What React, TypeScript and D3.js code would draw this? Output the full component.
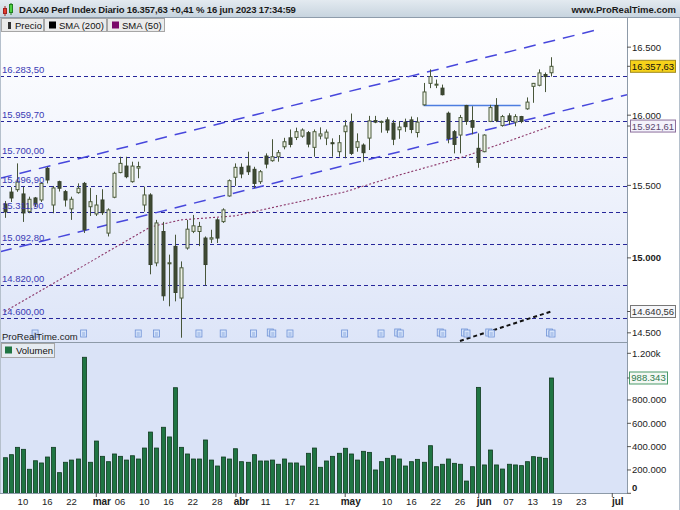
import React from "react";
import * as d3 from "d3";

// ---------- DATA ----------
const dates = [
  "02-07","02-08","02-09","02-10","02-13","02-14","02-15","02-16","02-17","02-20","02-21","02-22","02-23","02-24","02-27","02-28",
  "03-01","03-02","03-03","03-06","03-07","03-08","03-09","03-10","03-13","03-14","03-15","03-16","03-17","03-20","03-21","03-22","03-23","03-24","03-27","03-28","03-29","03-30","03-31",
  "04-03","04-04","04-05","04-06","04-11","04-12","04-13","04-14","04-17","04-18","04-19","04-20","04-21","04-24","04-25","04-26","04-27","04-28",
  "05-02","05-03","05-04","05-05","05-08","05-09","05-10","05-11","05-12","05-15","05-16","05-17","05-18","05-19","05-22","05-23","05-24","05-25","05-26","05-29","05-30","05-31",
  "06-01","06-02","06-05","06-06","06-07","06-08","06-09","06-12","06-13","06-14","06-15","06-16"
];
const futureDates = ["06-19","06-20","06-21","06-22","06-23","06-26","06-27","06-28","06-29","06-30","07-03","07-04","07-05"];

const opens = [
  15370,15453,15470,15440,15317,15412,15398,15620,15363,15526,15456,15336,15449,15514,15351,15301,
  15398,15169,15417,15590,15636,15526,15622,15363,15433,14966,15180,14960,15078,14730,15067,15181,15180,15135,15128,15260,15248,15426,15557,
  15627,15636,15613,15526,15707,15674,15702,15773,15837,15840,15849,15874,15769,15850,15835,15802,15738,15881,
  15948,15769,15785,15835,15961,15953,15966,15942,15895,15950,15966,15875,16075,16232,16220,16197,16014,15881,15857,16070,15961,15762,
  15738,15955,16070,15925,15995,15950,15990,16046,16210,16218,16297,16310
];
const highs = [
  15391,15488,15655,15489,15421,15419,15524,15631,15496,15533,15468,15421,15514,15524,15482,15433,
  15473,15340,15596,15702,15702,15667,15667,15491,15445,15260,15246,15022,15158,14976,15260,15294,15246,15146,15192,15272,15340,15542,15655,
  15655,15738,15631,15608,15726,15827,15750,15837,15897,15910,15905,15886,15897,15912,15897,15833,15857,15966,
  16012,15869,15797,15995,15995,15961,15985,15966,15955,15975,15990,15985,16235,16335,16260,16223,16026,15893,16002,16075,16065,15869,
  15862,16075,16124,16002,16014,16007,15995,16129,16235,16335,16312,16425
];
const lows = [
  15274,15384,15455,15246,15306,15349,15384,15514,15306,15457,15352,15260,15442,15170,15287,15287,
  15294,15146,15410,15585,15550,15519,15550,15317,14889,14943,14712,14675,14708,14468,15056,15169,15080,14812,15101,15101,15239,15421,15496,
  15550,15573,15480,15510,15620,15667,15667,15755,15769,15821,15838,15769,15702,15826,15785,15702,15702,15691,
  15714,15738,15667,15750,15942,15874,15871,15785,15830,15880,15870,15840,16070,16197,16197,16144,15798,15726,15726,15930,15862,15624,
  15734,15950,15950,15917,15930,15920,15942,16039,16090,16210,16168,16282
];
const closes = [
  15315,15412,15523,15308,15403,15370,15514,15538,15482,15480,15398,15403,15480,15192,15386,15363,
  15310,15329,15585,15655,15561,15636,15633,15433,14955,15239,14745,14967,14767,14933,15196,15219,15215,14955,15137,15135,15329,15533,15627,
  15580,15596,15514,15596,15650,15702,15731,15809,15790,15881,15893,15792,15881,15865,15878,15798,15802,15922,
  15726,15809,15731,15959,15950,15955,15893,15827,15914,15917,15897,15950,16169,16282,16226,16149,15833,15790,15983,15955,15913,15662,
  15857,16055,15961,15990,15961,15990,15955,16095,16232,16309,16282,16357.63
];
const volumes = [
  305000,331000,394000,377000,206000,279000,260000,311000,394000,177000,266000,285000,294000,1166000,266000,448000,
  317000,271000,337000,317000,285000,322000,294000,388000,525000,388000,566000,483000,905000,394000,337000,294000,294000,457000,285000,234000,311000,294000,382000,
  271000,266000,331000,277000,277000,285000,249000,294000,260000,260000,234000,343000,388000,223000,277000,317000,343000,386000,
  337000,285000,360000,351000,200000,271000,300000,322000,294000,234000,271000,291000,266000,408000,228000,249000,294000,257000,249000,105000,228000,908000,
  243000,371000,243000,208000,249000,243000,237000,271000,314000,309000,300000,988343
];

const sma50Dates = ["02-07","03-13","03-20","03-31","04-14","04-28","05-12","05-26","06-07","06-16"];
const sma50Values = [14640,15211,15260,15288,15363,15454,15573,15693,15813,15921.61];
const sma200Dates = ["05-26","06-16"];
const sma200Values = [14447,14640.56];

const levelPrices = [16283.5,15959.7,15700,15496.9,15311.9,15092.8,14820,14600];
const levelLabels = ["16.283,50","15.959,70","15.700,00","15.496,90","15.311,90","15.092,80","14.820,00","14.600,00"];

const channelUpperDates = ["02-07","06-28"];
const channelUpperValues = [15558,16635];
const channelLowerDates = ["02-07","06-16"];
const channelLowerValues = [15050,16010];

const resistanceDates = ["05-18","06-09"];
const resistanceValue = 16070;

const priceTicks = [16500,16000,15500,15000,14500];
const priceTickLabels = ["16.500","16.000","15.500","15.000","14.500"];
const volumeTicks = [1200000,800000,600000,400000,200000,0];
const volumeTickLabels = ["1.200k","800.000","600.000","400.000","200.000","0"];

const dateTickDates = ["02-10","02-16","02-22","03-01","03-06","03-10","03-16","03-22","03-28","04-03","04-11","04-17","04-21","05-02","05-10","05-16","05-22","05-26","06-01","06-07","06-13","06-19","06-23","07-03"];
const dateTickLabels = ["10","16","22","mar","06","10","16","22","28","abr","11","17","21","may","10","16","22","26","jun","07","13","19","23","jul"];
const monthLabels = ["mar","abr","may","jun","jul"];

const newsDates = ["02-14","02-24","03-09","03-14","03-23","03-29","04-05","04-12","04-17","04-28","05-09","05-12","05-23","05-29","06-02","06-16"];
const newsDouble = [false,false,false,false,false,false,false,true,false,false,false,true,true,true,true,true];

// ---------- CHART ----------
const W = 680, H = 510;
const plotR = 627;
const priceTop = 18, priceBottom = 342;
const volTop = 343, volBottom = 493;
const FONT = "'Liberation Sans', Arial, sans-serif";

const allDates = dates.concat(futureDates);
const idx = (d: string) => allDates.indexOf(d);

export default function App() {
  const x = d3.scaleLinear().domain([0, 90]).range([4.7, 551]);
  const y = d3.scaleLog().domain([14440, 16719]).range([priceBottom, priceTop]);
  const yv = d3.scaleLinear().domain([0, 1200000]).range([493.3, 353.3]);

  const extend = (ds: string[], vs: number[], x0: number, x1: number) => {
    const ax = x(idx(ds[0])), ay = y(vs[0]);
    const bx = x(idx(ds[1])), by = y(vs[1]);
    const s = (by - ay) / (bx - ax);
    return { x1: x0, y1: ay + s * (x0 - ax), x2: x1, y2: ay + s * (x1 - ax) };
  };
  const up = extend(channelUpperDates, channelUpperValues, 0, x(idx(channelUpperDates[1])));
  const lo = extend(channelLowerDates, channelLowerValues, 0, plotR);

  const smaLine = d3.line<[number, number]>().x((d) => d[0]).y((d) => d[1]);
  const sma50Pts: [number, number][] = sma50Dates.map((d, i) => [x(idx(d)), y(sma50Values[i])]);
  const sma200Pts: [number, number][] = sma200Dates.map((d, i) => [x(idx(d)), y(sma200Values[i])]);

  const box = (label: string, cy: number, fill: string, stroke: string, color: string) => (
    <g key={label}>
      <line x1={plotR} x2={plotR + 3} y1={cy} y2={cy} stroke="#555" />
      <rect x={630.5} y={cy - 6} width={45} height={12} fill={fill} stroke={stroke} />
      <text x={653} y={cy + 3.5} fontSize={9.5} textAnchor="middle" fill={color} fontFamily={FONT}>{label}</text>
    </g>
  );

  const lastVol = volumes[volumes.length - 1];

  return (
    <svg width={W} height={H} style={{ position: "absolute", left: 0, top: 0 }} fontFamily={FONT}>
      <defs>
        <linearGradient id="pbg" x1="0" y1="0" x2="0" y2="1">
          <stop offset="0" stopColor="#ffffff" />
          <stop offset="0.45" stopColor="#f1f4fc" />
          <stop offset="1" stopColor="#dde5f8" />
        </linearGradient>
        <linearGradient id="hbg" x1="0" y1="0" x2="0" y2="1">
          <stop offset="0" stopColor="#e3eaf0" />
          <stop offset="1" stopColor="#c6d3de" />
        </linearGradient>
        <clipPath id="pclip"><rect x={0} y={priceTop} width={plotR} height={priceBottom - priceTop} /></clipPath>
      </defs>
      <rect x={0} y={0} width={W} height={H} fill="#ffffff" />
      {/* price panel */}
      <rect x={0} y={priceTop} width={plotR} height={priceBottom - priceTop} fill="url(#pbg)" />
      {/* volume panel */}
      <rect x={0} y={volTop} width={plotR} height={volBottom - volTop} fill="#dae3f7" />

      <g clipPath="url(#pclip)">
        {/* horizontal levels */}
        {levelPrices.map((p, i) => (
          <line key={"lv" + i} x1={0} x2={plotR} y1={Math.round(y(p)) + 0.5} y2={Math.round(y(p)) + 0.5}
            stroke="#26269a" strokeWidth={1.1} strokeDasharray="4,3" />
        ))}
        {/* channel */}
        <line {...up} stroke="#4747dc" strokeWidth={1.5} strokeDasharray="12,8" />
        <line {...lo} stroke="#4747dc" strokeWidth={1.5} strokeDasharray="12,8" />
        {/* SMA50 */}
        <path d={smaLine(sma50Pts) || ""} fill="none" stroke="#8a3468" strokeWidth={1.1} strokeDasharray="2,2" />
        {/* SMA200 */}
        <path d={smaLine(sma200Pts) || ""} fill="none" stroke="#111" strokeWidth={2} strokeDasharray="4,3" />
        {/* resistance */}
        <line x1={x(idx(resistanceDates[0]))} x2={x(idx(resistanceDates[1]))}
          y1={y(resistanceValue)} y2={y(resistanceValue)} stroke="#4d7de0" strokeWidth={1.6} />
        {/* candles */}
        {dates.map((d, i) => {
          const cx = Math.round(x(i));
          const o = opens[i], c = closes[i];
          const upC = c >= o;
          const top = y(Math.max(o, c)), bot = y(Math.min(o, c));
          const h = Math.max(1, bot - top);
          return (
            <g key={"c" + i}>
              <line x1={cx + 0.5} x2={cx + 0.5} y1={y(highs[i])} y2={y(lows[i])} stroke="#48563a" strokeWidth={1} />
              <rect x={cx - 1} y={top} width={3} height={h}
                fill={upC ? "#eef2e6" : "#3f4b34"} stroke={upC ? "#4a5a3b" : "#36412c"} strokeWidth={1} />
            </g>
          );
        })}
        {/* level labels */}
        {levelPrices.map((p, i) => (
          <text key={"ll" + i} x={2} y={y(p) - 3} fontSize={9.5} fill="#3a3ab4">{levelLabels[i]}</text>
        ))}
        {/* news icons */}
        {newsDates.map((d, i) => {
          const cx = x(idx(d));
          const ic = (ox: number, oy: number, k: string) => (
            <g key={k}>
              <rect x={cx - 3 + ox} y={330 + oy} width={6} height={7} fill="#d6e4fa" stroke="#6f92d6" strokeWidth={0.8} />
              <line x1={cx - 1.5 + ox} x2={cx + 1.5 + ox} y1={333 + oy} y2={333 + oy} stroke="#6f92d6" strokeWidth={0.7} />
              <line x1={cx - 1.5 + ox} x2={cx + 1.5 + ox} y1={335 + oy} y2={335 + oy} stroke="#6f92d6" strokeWidth={0.7} />
            </g>
          );
          return (
            <g key={"n" + i}>
              {newsDouble[i] ? ic(-1.5, -1, "a") : null}
              {ic(newsDouble[i] ? 1 : 0, 0, "b")}
            </g>
          );
        })}
        <text x={2} y={340} fontSize={9.5} fill="#222">ProRealTime.com</text>
      </g>

      {/* volume bars */}
      {volumes.map((v, i) => {
        const cx = Math.round(x(i));
        return (
          <rect key={"v" + i} x={cx - 1.5} y={yv(v)} width={4} height={yv(0) - yv(v)}
            fill="#1f7543" stroke="#0f3a1e" strokeWidth={0.8} />
        );
      })}

      {/* panel borders */}
      <line x1={0} x2={plotR} y1={priceBottom + 0.5} y2={priceBottom + 0.5} stroke="#8d9aa8" />
      <line x1={0} x2={plotR} y1={volBottom + 0.5} y2={volBottom + 0.5} stroke="#8d9aa8" />
      <line x1={plotR + 0.5} x2={plotR + 0.5} y1={priceTop} y2={volBottom} stroke="#8d9aa8" />
      <line x1={0.5} x2={0.5} y1={priceTop} y2={volBottom} stroke="#b5c0cc" />
      <line x1={W - 0.5} x2={W - 0.5} y1={priceTop} y2={H} stroke="#b5c0cc" />

      {/* price axis */}
      {priceTicks.map((p, i) => (
        <g key={"pt" + i}>
          <line x1={plotR} x2={plotR + 4} y1={y(p)} y2={y(p)} stroke="#555" />
          <text x={632} y={y(p) + 3.5} fontSize={9.5} fill="#222" fontWeight={p === 15000 ? "bold" : "normal"}>{priceTickLabels[i]}</text>
        </g>
      ))}
      {box("16.357,63", y(closes[closes.length - 1]), "#f6d21a", "#a08a20", "#111")}
      {box("15.921,61", y(sma50Values[sma50Values.length - 1]), "#f4f2fb", "#8c6f9c", "#5a4870")}
      {box("14.640,56", y(sma200Values[sma200Values.length - 1]), "#f6f7fa", "#777", "#333")}

      {/* volume axis */}
      {volumeTicks.map((v, i) => (
        <g key={"vt" + i}>
          <line x1={plotR} x2={plotR + 4} y1={yv(v)} y2={yv(v)} stroke="#555" />
          <text x={632} y={v === 0 ? yv(v) - 2 : yv(v) + 3.5} fontSize={9.5} fill="#222" fontWeight={v === 0 ? "bold" : "normal"}>{volumeTickLabels[i]}</text>
        </g>
      ))}
      <g>
        <line x1={plotR} x2={plotR + 3} y1={yv(lastVol)} y2={yv(lastVol)} stroke="#555" />
        <rect x={629.5} y={yv(lastVol) - 6} width={38} height={12} fill="#f4f8f4" stroke="#4c9a6a" />
        <text x={648.5} y={yv(lastVol) + 3.5} fontSize={9.5} textAnchor="middle" fill="#2c7a4c">988.343</text>
      </g>

      {/* date axis */}
      {dateTickDates.map((d, i) => {
        const cx = x(idx(d));
        const isMonth = monthLabels.includes(dateTickLabels[i]);
        return (
          <g key={"dt" + i}>
            {isMonth ? <line x1={cx - 5.5} x2={cx - 5.5} y1={volBottom} y2={volBottom + 4} stroke="#555" /> : null}
            <text x={cx} y={505} fontSize={isMonth ? 10 : 9.5} fontWeight={isMonth ? "bold" : "normal"}
              textAnchor="middle" fill="#222">{dateTickLabels[i]}</text>
          </g>
        );
      })}

      {/* header */}
      <rect x={0} y={0} width={W} height={18} fill="url(#hbg)" />
      <line x1={0} x2={W} y1={17.5} y2={17.5} stroke="#8e9cab" />
      <line x1={5} x2={5} y1={6} y2={16} stroke="#a02020" />
      <rect x={3.5} y={8.5} width={3} height={5} fill="#e23c2c" stroke="#a02020" />
      <line x1={11} x2={11} y1={3} y2={15} stroke="#208020" />
      <rect x={9.5} y={4.5} width={3} height={8} fill="#4ed040" stroke="#208020" />
      <text x={19} y={13} fontSize={9.5} letterSpacing={-0.15} fontWeight="bold" fill="#1a1a1a">DAX40 Perf Index Diario 16.357,63 +0,41 % 16 jun 2023 17:34:59</text>
      <text x={676} y={13} fontSize={9.5} fontWeight="bold" textAnchor="end" fill="#1a1a1a">www.ProRealTime.com</text>

      {/* legend tabs */}
      <rect x={1.5} y={18.5} width={42} height={13} fill="#ebebeb" stroke="#a6a6a6" />
      <rect x={8} y={22} width={3} height={7} fill="#333" />
      <text x={15} y={28.5} fontSize={9.5} fill="#111">Precio</text>
      <rect x={44.5} y={18.5} width={62} height={13} fill="#ebebeb" stroke="#a6a6a6" />
      <rect x={49} y={21.5} width={7} height={7} fill="#000" />
      <text x={59} y={28.5} fontSize={9.5} fill="#111">SMA (200)</text>
      <rect x={107.5} y={18.5} width={57} height={13} fill="#ebebeb" stroke="#a6a6a6" />
      <rect x={112} y={21.5} width={7} height={7} fill="#7a0a6a" />
      <text x={122} y={28.5} fontSize={9.5} fill="#111">SMA (50)</text>

      {/* volume legend */}
      <rect x={1.5} y={343.5} width={53} height={14} fill="#e6ebf1" stroke="#a6a6a6" />
      <rect x={5} y={346.5} width={7} height={7} fill="#1f7543" />
      <text x={16} y={354} fontSize={9.5} fill="#111">Volumen</text>
    </svg>
  );
}
